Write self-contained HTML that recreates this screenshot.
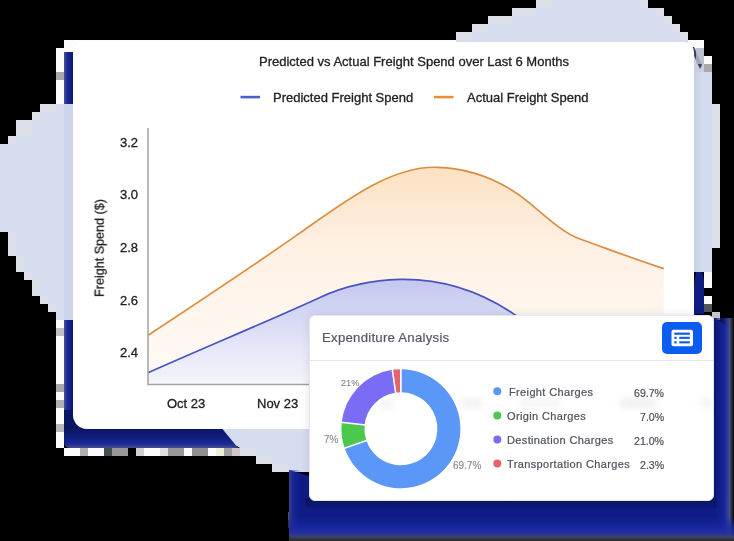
<!DOCTYPE html>
<html><head><meta charset="utf-8">
<style>
*{margin:0;padding:0;box-sizing:border-box}
html,body{width:734px;height:541px;overflow:hidden;background:#000}
body{position:relative;font-family:"Liberation Sans",sans-serif}
.abs{position:absolute}
svg.abs{left:0;top:0}
.t{position:absolute;white-space:nowrap;line-height:1;will-change:transform;-webkit-text-stroke:0.3px currentColor}
#main{left:73px;top:42px;width:621px;height:387px;background:#fff;border-radius:10px 10px 10px 14px}
#exp{left:308.5px;top:315px;width:405.5px;height:186px;background:#fff;border-radius:6px;border:1px solid #e7e8ee;box-shadow:0 0 9px rgba(40,50,110,0.13)}
</style></head>
<body>
<!-- background layer -->
<svg class="abs" width="734" height="541" viewBox="0 0 734 541">
<defs>
 <linearGradient id="nB" x1="0" y1="476" x2="0" y2="541" gradientUnits="userSpaceOnUse">
  <stop offset="0" stop-color="#0b1766"/>
  <stop offset="0.38" stop-color="#0d1a74"/>
  <stop offset="0.6" stop-color="#1424a0"/>
  <stop offset="0.78" stop-color="#2434ac"/>
  <stop offset="0.88" stop-color="#4b55a8"/>
  <stop offset="0.95" stop-color="#5b5d78"/>
  <stop offset="1" stop-color="#1c1c22"/>
 </linearGradient>
 <linearGradient id="nR" x1="714" y1="0" x2="734" y2="0" gradientUnits="userSpaceOnUse">
  <stop offset="0" stop-color="#0b1766"/>
  <stop offset="0.3" stop-color="#101e88"/>
  <stop offset="0.6" stop-color="#1a28a8"/>
  <stop offset="0.75" stop-color="#3a46b0"/>
  <stop offset="0.88" stop-color="#6a70a8"/>
  <stop offset="1" stop-color="#2a2a36"/>
 </linearGradient>
 <linearGradient id="nL" x1="289" y1="0" x2="309" y2="0" gradientUnits="userSpaceOnUse">
  <stop offset="0" stop-color="#5a60a0"/>
  <stop offset="0.2" stop-color="#2c3aa8"/>
  <stop offset="0.6" stop-color="#132296"/>
  <stop offset="1" stop-color="#0d1a78"/>
 </linearGradient>
 <linearGradient id="mL" x1="64" y1="0" x2="73" y2="0" gradientUnits="userSpaceOnUse">
  <stop offset="0" stop-color="#4a5298"/>
  <stop offset="0.35" stop-color="#1a2896"/>
  <stop offset="1" stop-color="#0c1872"/>
 </linearGradient>
 <linearGradient id="mB" x1="0" y1="428" x2="0" y2="448" gradientUnits="userSpaceOnUse">
  <stop offset="0" stop-color="#0a1562"/>
  <stop offset="0.5" stop-color="#101e80"/>
  <stop offset="0.8" stop-color="#1c2a98"/>
  <stop offset="1" stop-color="#48508e"/>
 </linearGradient>
 <linearGradient id="blobR" x1="694" y1="0" x2="720" y2="0" gradientUnits="userSpaceOnUse">
  <stop offset="0" stop-color="#c6cfe6"/>
  <stop offset="0.3" stop-color="#d2daed"/>
  <stop offset="1" stop-color="#d6ddef"/>
 </linearGradient>
 <linearGradient id="dkB" x1="0" y1="498" x2="0" y2="516" gradientUnits="userSpaceOnUse">
  <stop offset="0" stop-color="#0a1460" stop-opacity="1"/>
  <stop offset="0.4" stop-color="#0c1870" stop-opacity="0.9"/>
  <stop offset="1" stop-color="#13229c" stop-opacity="0"/>
 </linearGradient>
 <linearGradient id="dkR" x1="714" y1="0" x2="724" y2="0" gradientUnits="userSpaceOnUse">
  <stop offset="0" stop-color="#0a1460" stop-opacity="1"/>
  <stop offset="1" stop-color="#13229c" stop-opacity="0"/>
 </linearGradient>
 <linearGradient id="fB" x1="0" y1="516" x2="0" y2="541" gradientUnits="userSpaceOnUse">
  <stop offset="0" stop-color="#1624a0" stop-opacity="0"/>
  <stop offset="0.5" stop-color="#1a2aa6" stop-opacity="0.8"/>
  <stop offset="0.72" stop-color="#2a34a0" stop-opacity="0.9"/>
  <stop offset="0.84" stop-color="#40425a" stop-opacity="1"/>
  <stop offset="1" stop-color="#2a2a30" stop-opacity="1"/>
 </linearGradient>
 <linearGradient id="fR" x1="714" y1="0" x2="734" y2="0" gradientUnits="userSpaceOnUse">
  <stop offset="0" stop-color="#1624a0" stop-opacity="0"/>
  <stop offset="0.45" stop-color="#1828a8" stop-opacity="0.5"/>
  <stop offset="0.62" stop-color="#2a38a4" stop-opacity="0.85"/>
  <stop offset="0.78" stop-color="#4a4e88" stop-opacity="0.95"/>
  <stop offset="0.9" stop-color="#24242c" stop-opacity="1"/>
  <stop offset="1" stop-color="#08080a" stop-opacity="1"/>
 </linearGradient>
 <linearGradient id="fL" x1="289" y1="0" x2="301" y2="0" gradientUnits="userSpaceOnUse">
  <stop offset="0" stop-color="#3c4488" stop-opacity="0.9"/>
  <stop offset="0.35" stop-color="#2232a4" stop-opacity="0.5"/>
  <stop offset="1" stop-color="#1624a0" stop-opacity="0"/>
 </linearGradient>
</defs>
<polygon fill="#d4dcee" points="456,42 456,32 472,32 472,24 488,24 488,16 512,16 512,8 536,8 536,0 648,0 648,8 664,8 664,16 672,16 672,24 680,24 680,32 688,32 688,40 704,40 704,56 712,56 712,104 720,104 720,248 712,248 712,272 694,272 309,472 272,472 272,464 256,464 256,456 240,456 240,448 207,428 73,428 73,320 56,320 56,312 48,312 48,304 40,304 40,296 32,296 32,280 24,280 24,272 16,272 16,256 8,256 8,232 0,232 0,144 8,144 8,136 16,136 16,120 32,120 32,112 40,112 40,104 73,104 73,42"/>
<g fill="#dee0e9"><rect x="456" y="32" width="16" height="8"/><rect x="472" y="24" width="16" height="8"/><rect x="488" y="16" width="24" height="8"/><rect x="512" y="8" width="24" height="8"/><rect x="536" y="0" width="16" height="8"/><rect x="640" y="0" width="8" height="8"/><rect x="656" y="8" width="8" height="8"/><rect x="664" y="16" width="8" height="8"/><rect x="672" y="24" width="8" height="8"/><rect x="680" y="32" width="8" height="8"/><rect x="712" y="104" width="8" height="144"/><rect x="704" y="248" width="8" height="24"/><rect x="40" y="104" width="16" height="8"/><rect x="32" y="112" width="8" height="8"/><rect x="16" y="120" width="16" height="16"/><rect x="8" y="136" width="8" height="8"/><rect x="8" y="232" width="8" height="24"/><rect x="16" y="256" width="8" height="16"/><rect x="24" y="272" width="8" height="8"/><rect x="32" y="280" width="8" height="16"/><rect x="40" y="296" width="8" height="8"/><rect x="48" y="304" width="8" height="8"/><rect x="240" y="448" width="16" height="8"/><rect x="256" y="456" width="16" height="8"/><rect x="272" y="464" width="16" height="8"/></g>
<rect x="694" y="72" width="18" height="200" fill="url(#blobR)"/>
<rect x="694" y="48" width="10" height="24" fill="#c9cfdf"/>
<rect x="64" y="104" width="9" height="216" fill="#cdd5ea"/>
<g fill="#fbfbfb"><rect x="64" y="40" width="392" height="8"/><rect x="64" y="40" width="24" height="14"/><rect x="56" y="48" width="8" height="24"/><rect x="56" y="80" width="8" height="24"/><rect x="688" y="40" width="16" height="8"/><rect x="704" y="56" width="8" height="8"/><rect x="704" y="272" width="8" height="16"/><rect x="704" y="296" width="8" height="8"/><rect x="56" y="320" width="8" height="8"/><rect x="56" y="336" width="8" height="48"/><rect x="56" y="392" width="8" height="8"/><rect x="56" y="408" width="8" height="16"/><rect x="56" y="432" width="8" height="16"/><rect x="64" y="448" width="16" height="8"/><rect x="88" y="448" width="16" height="8"/><rect x="144" y="448" width="16" height="8"/><rect x="184" y="448" width="8" height="8"/><rect x="208" y="448" width="8" height="8"/></g>
<rect x="56" y="72" width="8" height="8" fill="#a8a8aa"/><rect x="704" y="64" width="8" height="8" fill="#a9a9ab"/><rect x="704" y="304" width="8" height="8" fill="#505a58"/><rect x="712" y="312" width="8" height="8" fill="#c8c8c8"/><rect x="56" y="328" width="8" height="8" fill="#c0c0c2"/><rect x="56" y="384" width="8" height="8" fill="#a8a8a8"/><rect x="56" y="400" width="8" height="8" fill="#b0b0b0"/><rect x="56" y="424" width="8" height="8" fill="#b8b8b8"/><rect x="80" y="448" width="8" height="8" fill="#b0b0b0"/><rect x="104" y="448" width="8" height="8" fill="#405050"/><rect x="112" y="448" width="16" height="8" fill="#989898"/><rect x="136" y="448" width="8" height="8" fill="#d0d0d0"/><rect x="160" y="448" width="8" height="8" fill="#e0e0e0"/><rect x="168" y="448" width="16" height="8" fill="#989898"/><rect x="192" y="448" width="16" height="8" fill="#909090"/><rect x="216" y="448" width="8" height="8" fill="#eeeed6"/><rect x="224" y="448" width="8" height="8" fill="#a0a0a0"/><rect x="232" y="448" width="8" height="8" fill="#d0c8c8"/><rect x="288" y="512" width="8" height="8" fill="#505058"/><rect x="288" y="520" width="8" height="8" fill="#303036"/><rect x="296" y="528" width="8" height="8" fill="#3a3a40"/>
<rect x="64" y="52" width="10" height="52" fill="url(#mL)"/>
<rect x="64" y="320" width="10" height="120" fill="url(#mL)"/>
<path fill="url(#mB)" d="M64,410 H207 L238,448 H70 Q64,448 64,440 Z"/>
<polygon fill="#0f1c80" points="696,272 702,272 704,280 704,314 694,314 694,285"/>
<polygon fill="#3c4070" points="690,47 694,47 702,65 700,69"/>
<rect x="696" y="48" width="8" height="16" fill="#b8bcc8" opacity="0.8"/>
<path fill="#0f1c86" d="M289,470 L309,476 L714,476 L714,318 L724,324 L734,332 V541 H289 Z"/>
<rect x="305" y="498" width="409" height="18" fill="url(#dkB)"/>
<rect x="714" y="318" width="10" height="190" fill="url(#dkR)"/>
<rect x="289" y="470" width="12" height="71" fill="url(#fL)"/>
<rect x="714" y="318" width="20" height="223" fill="url(#fR)"/>
<rect x="289" y="516" width="445" height="25" fill="url(#fB)"/>
</svg>

<div id="main" class="abs"></div>
<!-- chart -->
<svg class="abs" width="734" height="541" viewBox="0 0 734 541" style="pointer-events:none">
  <defs>
    <linearGradient id="og" x1="0" y1="168" x2="0" y2="384" gradientUnits="userSpaceOnUse">
      <stop offset="0" stop-color="#fde1c2"/>
      <stop offset="0.15" stop-color="#fde7d0"/>
      <stop offset="0.36" stop-color="#fef0e3"/>
      <stop offset="0.61" stop-color="#fff5ec"/>
      <stop offset="1" stop-color="#fffaf6"/>
    </linearGradient>
    <linearGradient id="bg" x1="0" y1="279" x2="0" y2="384" gradientUnits="userSpaceOnUse">
      <stop offset="0" stop-color="#c4c7ef"/>
      <stop offset="0.3" stop-color="#d3d5f3"/>
      <stop offset="0.65" stop-color="#e6e7f8"/>
      <stop offset="1" stop-color="#f4f4fb"/>
    </linearGradient>
  </defs>
  <path fill="url(#og)" d="M148.0,335.4 C198.7,302.0 249.3,268.7 300.0,232.9 C345.7,200.7 391.3,165.9 437.0,167.3 C468.0,168.3 499.0,177.4 530.0,203.3 C546.7,217.2 563.3,233.1 580.0,239.0 C607.9,248.9 635.9,259.7 663.8,268.6 L663.8,384 L148,384 Z"/>
  <path fill="url(#bg)" d="M148.0,372.7 C205.3,347.2 262.7,323.5 320.0,297.4 C346.7,285.2 373.3,279.9 400.0,279.4 C437.7,278.7 475.5,288.2 513.2,313.6 L560.6,345.5 L560.6,384 L148,384 Z"/>
  <path fill="none" stroke="#dc8d40" stroke-width="1.7" d="M148.0,335.4 C198.7,302.0 249.3,268.7 300.0,232.9 C345.7,200.7 391.3,165.9 437.0,167.3 C468.0,168.3 499.0,177.4 530.0,203.3 C546.7,217.2 563.3,233.1 580.0,239.0 C607.9,248.9 635.9,259.7 663.8,268.6"/>
  <path fill="none" stroke="#4854c0" stroke-width="1.7" d="M148.0,372.7 C205.3,347.2 262.7,323.5 320.0,297.4 C346.7,285.2 373.3,279.9 400.0,279.4 C437.7,278.7 475.5,288.2 513.2,313.6 L560.6,345.5"/>
  <!-- axes -->
  <path fill="none" stroke="#a3a3a8" stroke-width="1.5" d="M148,128 V384.5 H664"/>
  <!-- legend lines -->
  <rect x="240.5" y="95.8" width="19.5" height="2.6" fill="#4b5fcf"/>
  <rect x="434" y="95.8" width="19.5" height="2.6" fill="#e8903a"/>
</svg>

<div class="t" style="left:259px;top:54.9px;font-size:13px;color:#222">Predicted vs Actual Freight Spend over Last 6 Months</div>
<div class="t" style="left:273px;top:90.8px;font-size:13px;color:#222">Predicted Freight Spend</div>
<div class="t" style="left:467px;top:90.8px;font-size:13px;color:#222">Actual Freight Spend</div>
<div class="t" style="left:119.5px;top:135.5px;font-size:13px;color:#222">3.2</div>
<div class="t" style="left:119.5px;top:188.2px;font-size:13px;color:#222">3.0</div>
<div class="t" style="left:119.5px;top:240.9px;font-size:13px;color:#222">2.8</div>
<div class="t" style="left:119.5px;top:293.6px;font-size:13px;color:#222">2.6</div>
<div class="t" style="left:119.5px;top:346.3px;font-size:13px;color:#222">2.4</div>
<div class="t" style="left:166.5px;top:397.2px;font-size:13px;color:#222">Oct 23</div>
<div class="t" style="left:256.5px;top:397.2px;font-size:13px;color:#222">Nov 23</div>
<div class="t" style="left:100.3px;top:248px;font-size:12.6px;color:#222;transform:translate(-50%,-50%) rotate(-90deg)">Freight Spend ($)</div>

<div id="exp" class="abs"></div>
<div class="abs" style="left:310px;top:360px;width:403px;height:1px;background:#e3e4ea"></div>
<div class="t" style="left:321.5px;top:330.6px;font-size:13.2px;letter-spacing:0.25px;color:#545866;-webkit-text-stroke:0.2px #545866">Expenditure Analysis</div>
<div class="abs" style="left:662px;top:322px;width:40px;height:32px;background:#0c5cf2;border-radius:5px"></div>
<svg class="abs" width="734" height="541" viewBox="0 0 734 541">
  <rect x="671.5" y="329.8" width="21.5" height="16.4" rx="2" fill="#fff"/>
  <rect x="674.3" y="332.6" width="15.5" height="2.2" fill="#0c5cf2"/>
  <rect x="674.3" y="336.8" width="2.4" height="2.1" fill="#0c5cf2"/>
  <rect x="679.2" y="336.8" width="10.6" height="2.1" fill="#0c5cf2"/>
  <rect x="674.3" y="341.3" width="2.4" height="2.1" fill="#0c5cf2"/>
  <rect x="679.2" y="341.3" width="10.6" height="2.1" fill="#0c5cf2"/>
  <path fill="#5a97f7" d="M400.90,369.25 A59.5,59.5 0 1 1 344.67,448.20 L366.41,440.68 A36.5,36.5 0 1 0 400.90,392.25 Z"/>
  <path fill="#4cc84c" d="M344.67,448.20 A59.5,59.5 0 0 1 341.74,422.41 L364.61,424.86 A36.5,36.5 0 0 0 366.41,440.68 Z"/>
  <path fill="#7a6cf5" d="M341.74,422.41 A59.5,59.5 0 0 1 392.33,369.87 L395.64,392.63 A36.5,36.5 0 0 0 364.61,424.86 Z"/>
  <path fill="#e5646a" d="M392.33,369.87 A59.5,59.5 0 0 1 400.90,369.25 L400.90,392.25 A36.5,36.5 0 0 0 395.64,392.63 Z"/>
  <g stroke="#fff" stroke-width="1.6">
  <line x1="400.90" y1="368.25" x2="400.90" y2="393.25"/>
  <line x1="343.72" y1="448.53" x2="367.35" y2="440.35"/>
  <line x1="340.74" y1="422.30" x2="365.60" y2="424.97"/>
  <line x1="392.19" y1="368.88" x2="395.79" y2="393.62"/>
  </g>
  <circle cx="497.3" cy="391.2" r="4" fill="#5a97f7"/>
  <circle cx="497.3" cy="415.4" r="4" fill="#4cc84c"/>
  <circle cx="497.3" cy="439.4" r="4" fill="#7a6cf5"/>
  <circle cx="497.3" cy="463.4" r="4" fill="#e5646a"/>
</svg>
<div class="t" style="left:341.4px;top:379.2px;font-size:9.2px;color:#8a8a8e;-webkit-text-stroke:0.15px #8a8a8e">21%</div>
<div class="t" style="left:324.2px;top:434.8px;font-size:10px;color:#8a8a8e;-webkit-text-stroke:0.15px #8a8a8e">7%</div>
<div class="t" style="left:452.6px;top:461.3px;font-size:10px;color:#8a8a8e;-webkit-text-stroke:0.15px #8a8a8e">69.7%</div>
<div class="t" style="left:508.5px;top:387.4px;font-size:11px;letter-spacing:0.36px;color:#50535e;-webkit-text-stroke:0.22px #50535e">Freight Charges</div>
<div class="t" style="left:507px;top:411.4px;font-size:11px;letter-spacing:0.36px;color:#50535e;-webkit-text-stroke:0.22px #50535e">Origin Charges</div>
<div class="t" style="left:507px;top:435.4px;font-size:11px;letter-spacing:0.36px;color:#50535e;-webkit-text-stroke:0.22px #50535e">Destination Charges</div>
<div class="t" style="left:507px;top:459.4px;font-size:11px;letter-spacing:0.36px;color:#50535e;-webkit-text-stroke:0.22px #50535e">Transportation Charges</div>
<div class="t" style="right:70px;top:387.9px;font-size:10.6px;color:#50535e;text-align:right;-webkit-text-stroke:0.22px #50535e">69.7%</div>
<div class="t" style="right:70px;top:411.9px;font-size:10.6px;color:#50535e;text-align:right;-webkit-text-stroke:0.22px #50535e">7.0%</div>
<div class="t" style="right:70px;top:435.9px;font-size:10.6px;color:#50535e;text-align:right;-webkit-text-stroke:0.22px #50535e">21.0%</div>
<div class="t" style="right:70px;top:459.9px;font-size:10.6px;color:#50535e;text-align:right;-webkit-text-stroke:0.22px #50535e">2.3%</div>
<div class="abs" style="left:378px;top:400px;width:16px;height:9px;background:rgba(120,120,130,0.07);filter:blur(3px)"></div>
<div class="abs" style="left:462px;top:399px;width:20px;height:9px;background:rgba(120,120,130,0.10);filter:blur(3px)"></div>
<div class="abs" style="left:620px;top:398px;width:36px;height:10px;background:rgba(120,120,130,0.10);filter:blur(3px)"></div>
<div class="abs" style="left:700px;top:398px;width:12px;height:10px;background:rgba(120,120,130,0.08);filter:blur(3px)"></div>
<div class="abs" style="left:520px;top:398px;width:40px;height:10px;background:rgba(120,120,130,0.06);filter:blur(3px)"></div>
</body></html>
